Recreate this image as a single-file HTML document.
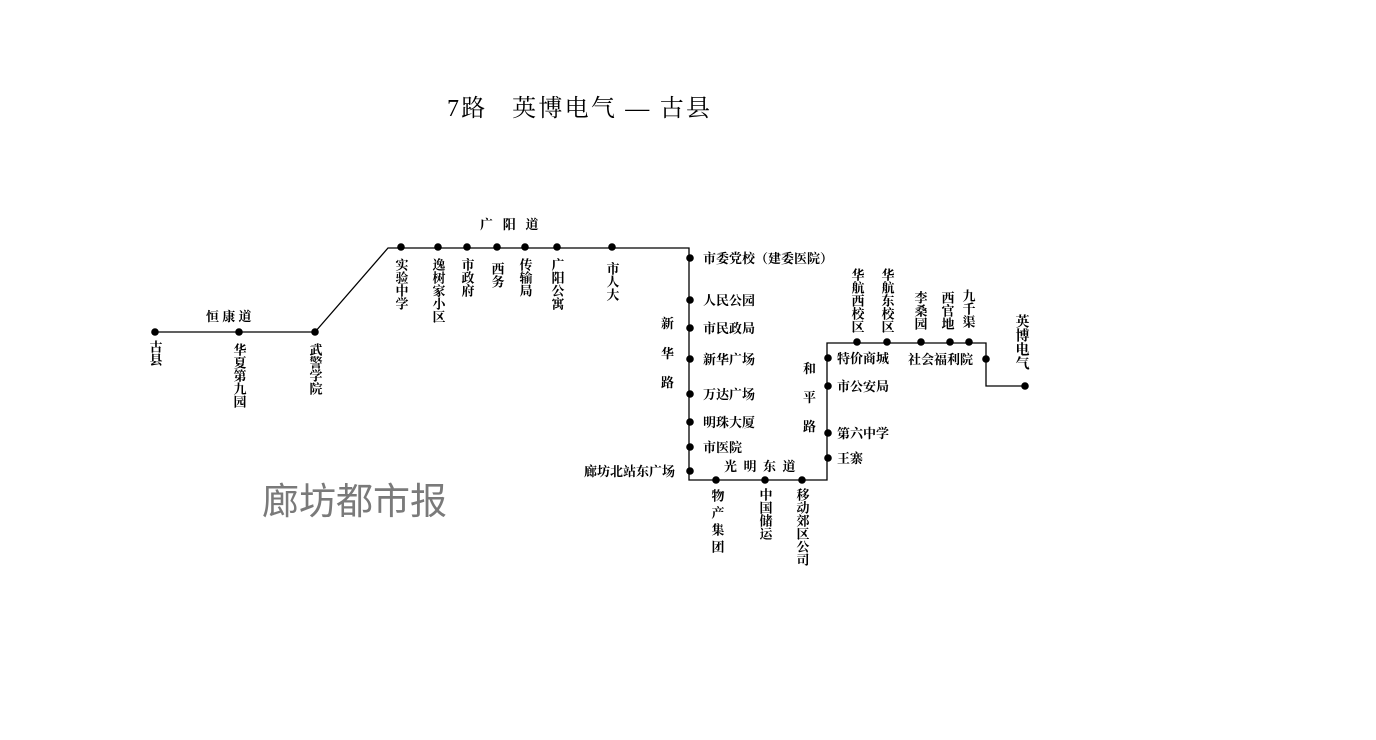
<!DOCTYPE html>
<html><head><meta charset="utf-8"><style>
html,body{margin:0;padding:0;background:#fff;}
svg{display:block;}
.s{font-family:"Liberation Serif","Noto Serif CJK SC",serif;font-size:13px;font-weight:bold;fill:#000;}
.v{writing-mode:vertical-rl;text-orientation:upright;}
</style></head><body>
<svg width="1376" height="740" viewBox="0 0 1376 740" xmlns="http://www.w3.org/2000/svg">
<rect width="1376" height="740" fill="#fff"/>
<text x="447" y="116" font-family="Liberation Serif,'Noto Serif CJK SC',serif" font-size="24" fill="#000" xml:space="preserve" textLength="263" lengthAdjust="spacing">7路   英博电气 — 古县</text>
<text x="262" y="514" font-family="Liberation Sans,'Noto Sans CJK SC',sans-serif" font-size="37" fill="#7a7a7a">廊坊都市报</text>
<polyline points="155,332 315,332 388,248 689,248 689,480 827,480 827,343 986,343 986,386 1025,386" fill="none" stroke="#000" stroke-width="1.3"/>
<g fill="#000">
<circle cx="155" cy="332" r="3.8"/><circle cx="239" cy="332" r="3.8"/><circle cx="315" cy="332" r="3.8"/>
<circle cx="401" cy="247" r="3.8"/><circle cx="438" cy="247" r="3.8"/><circle cx="467" cy="247" r="3.8"/><circle cx="497" cy="247" r="3.8"/><circle cx="525" cy="247" r="3.8"/><circle cx="557" cy="247" r="3.8"/><circle cx="612" cy="247" r="3.8"/>
<circle cx="690" cy="258" r="3.8"/><circle cx="690" cy="300" r="3.8"/><circle cx="690" cy="328" r="3.8"/><circle cx="690" cy="359" r="3.8"/><circle cx="690" cy="394" r="3.8"/><circle cx="690" cy="422" r="3.8"/><circle cx="690" cy="447" r="3.8"/><circle cx="690" cy="471" r="3.8"/>
<circle cx="716" cy="480" r="3.8"/><circle cx="765" cy="480" r="3.8"/><circle cx="802" cy="480" r="3.8"/>
<circle cx="828" cy="458" r="3.8"/><circle cx="828" cy="433" r="3.8"/><circle cx="828" cy="386" r="3.8"/><circle cx="828" cy="358" r="3.8"/>
<circle cx="857" cy="342" r="3.8"/><circle cx="887" cy="342" r="3.8"/><circle cx="921" cy="342" r="3.8"/><circle cx="950" cy="342" r="3.8"/><circle cx="969" cy="342" r="3.8"/>
<circle cx="986" cy="359" r="3.8"/><circle cx="1025" cy="386" r="3.8"/>
</g>
<g class="s">
<text x="206" y="321">恒 康 道</text>
<text x="480" y="229" xml:space="preserve">广   阳   道</text>
<text x="724" y="471" xml:space="preserve">光  明  东  道</text>
<text x="661" y="328">新</text><text x="661" y="358">华</text><text x="661" y="387">路</text>
<text x="803" y="373">和</text><text x="803" y="402">平</text><text x="803" y="431">路</text>
<text x="703" y="263">市委党校（建委医院）</text>
<text x="703" y="305">人民公园</text>
<text x="703" y="333">市民政局</text>
<text x="703" y="364">新华广场</text>
<text x="703" y="399">万达广场</text>
<text x="703" y="427">明珠大厦</text>
<text x="703" y="452">市医院</text>
<text x="584" y="476">廊坊北站东广场</text>
<text x="837" y="363">特价商城</text>
<text x="837" y="391">市公安局</text>
<text x="837" y="438">第六中学</text>
<text x="837" y="463">王寨</text>
<text x="908" y="364">社会福利院</text>
<g class="v">
<text x="155" y="340">古县</text>
<text x="239" y="343">华夏第九园</text>
<text x="315" y="343">武警学院</text>
<text x="401" y="258">实验中学</text>
<text x="438" y="258">逸树家小区</text>
<text x="467" y="258">市政府</text>
<text x="497" y="262">西务</text>
<text x="525" y="258">传输局</text>
<text x="557" y="258">广阳公寓</text>
<text x="612" y="262">市人大</text>
<text x="857" y="268">华航西校区</text>
<text x="887" y="268">华航东校区</text>
<text x="920" y="291">李桑园</text>
<text x="947" y="291">西官地</text>
<text x="968" y="289">九千渠</text>
<text x="1021" y="314" style="font-size:14px">英博电气</text>
<text x="717" y="489" style="letter-spacing:4px">物产集团</text>
<text x="765" y="488">中国储运</text>
<text x="802" y="488">移动郊区公司</text>
</g>
</g>
</svg>
</body></html>
